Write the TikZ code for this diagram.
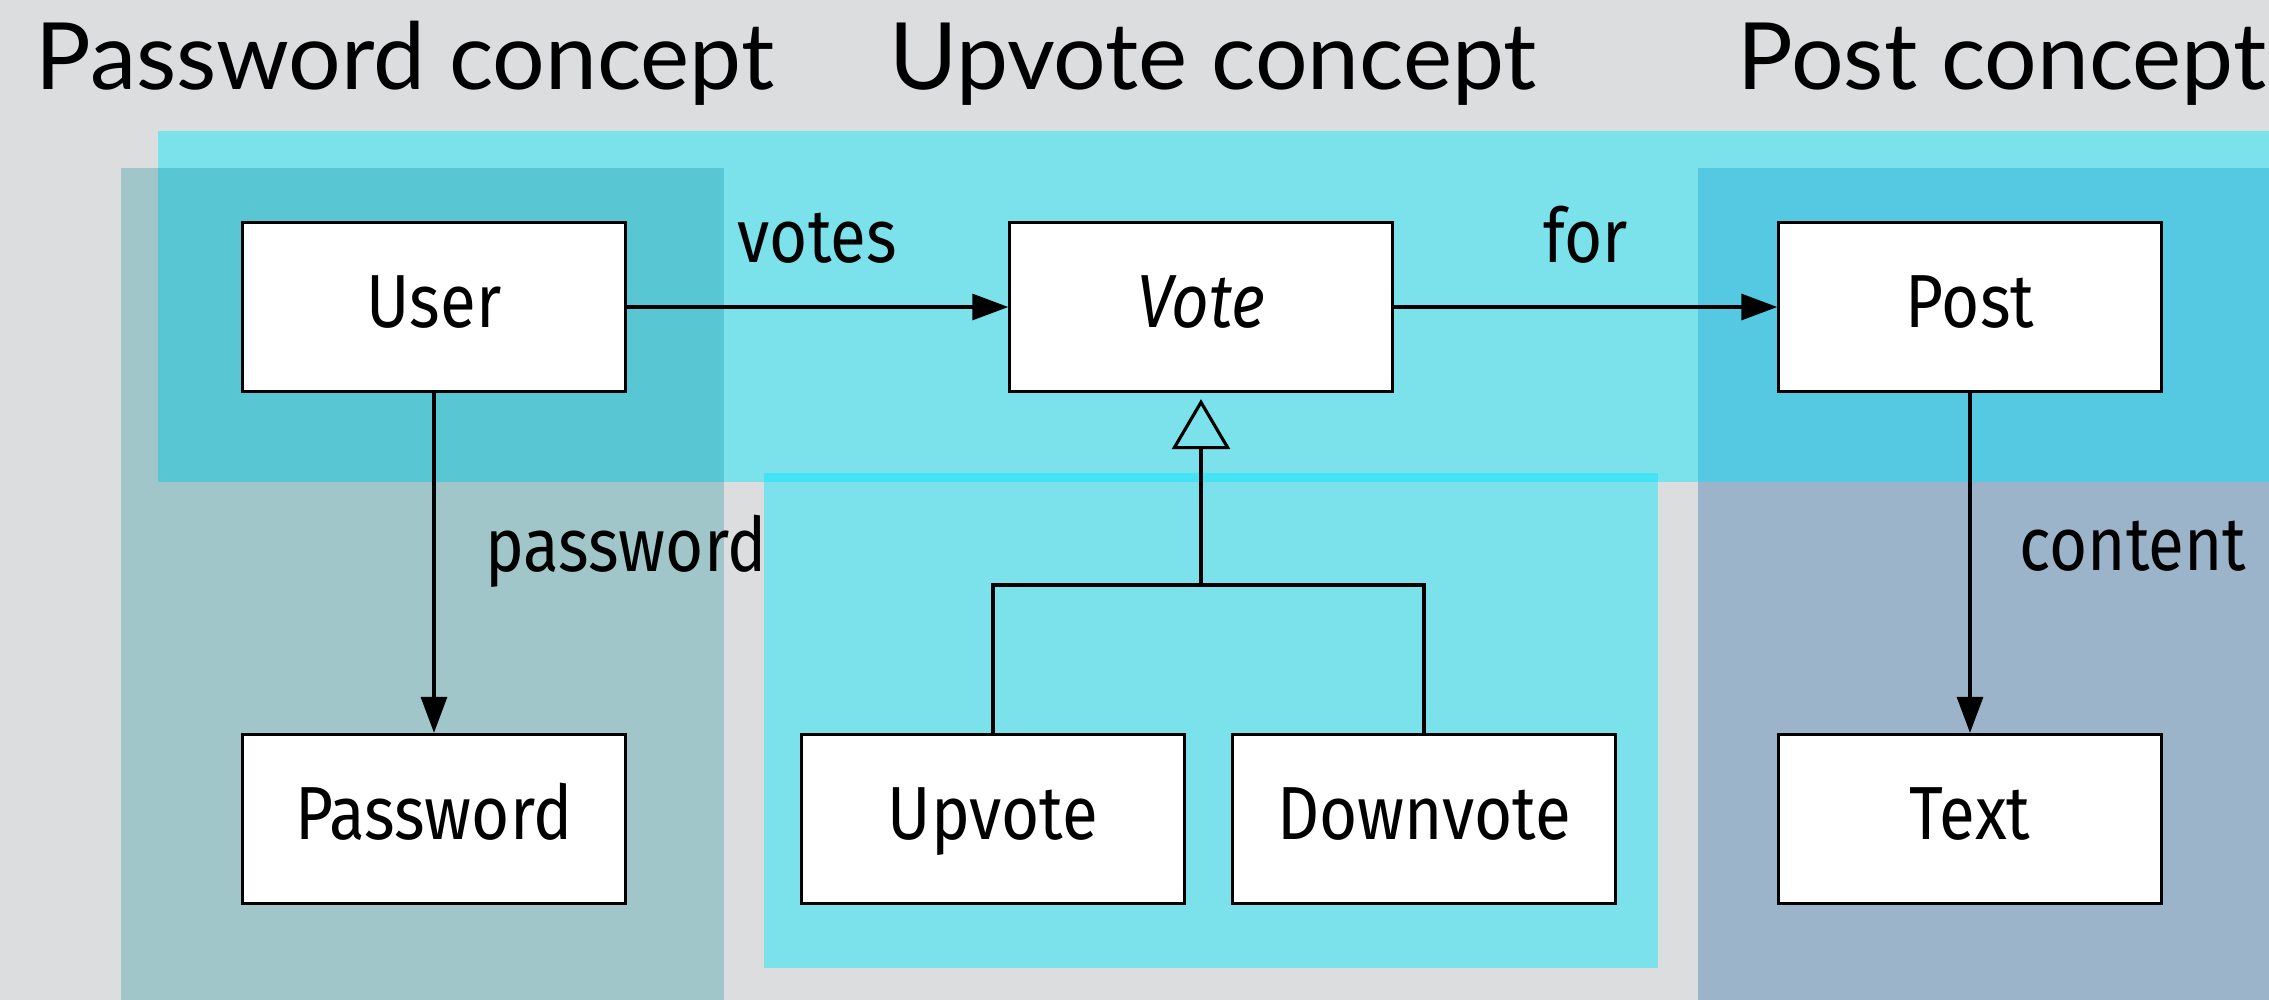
\documentclass[tikz,border=0pt]{standalone}
\usepackage{fontspec}
\setmainfont[FakeStretch=0.87]{Fira Sans}
\newfontfamily\titlefont{Lato}
\usetikzlibrary{arrows.meta}
\definecolor{PageGray}{HTML}{DCDDDF}
\definecolor{VoteCyan}{HTML}{7BE1EB}
\definecolor{VoteStrip}{HTML}{43E3F3}
\definecolor{PwdTeal}{HTML}{A0C6C9}
\definecolor{PwdOverlap}{HTML}{58C7D3}
\definecolor{PostBlue}{HTML}{9BB4CA}
\definecolor{PostOverlap}{HTML}{55C9E1}

\tikzset{
  umlbox/.style={draw, line width=0.9pt, fill=white, minimum width=3.82cm,
    minimum height=1.69cm, inner sep=0pt, text height=0.52cm, text depth=0.12cm,
    font=\fontsize{21.4}{25}\selectfont},
  rolelabel/.style={inner sep=0pt, font=\fontsize{21.4}{25}\selectfont},
  concept/.style={anchor=base, inner sep=0pt, font=\titlefont\fontsize{26.4}{30}\selectfont},
  assoc/.style={line width=0.9pt, -{Triangle[length=0.36cm, width=0.26cm]}},
  generalize/.style={line width=0.9pt, -{Triangle[open, length=0.5cm, width=0.58cm]},
    shorten >=0.06cm}
}

\begin{document}
\begin{tikzpicture}[x=0.01cm, y=-0.01cm]
\useasboundingbox (0,0) rectangle (2269,1000);
% Background and concept areas
\fill[PageGray] (0,0) rectangle (2269,1000);
\fill[PwdTeal] (121,168) rectangle (724,1000);
\fill[PostBlue] (1698,168) rectangle (2269,1000);
\fill[VoteCyan] (158,131) rectangle (2269,482);
\fill[VoteCyan] (764,473) rectangle (1658,968);
% Where the areas overlap
\fill[PwdOverlap] (158,168) rectangle (724,482);
\fill[PostOverlap] (1698,168) rectangle (2269,482);
\fill[VoteStrip] (764,473) rectangle (1658,482);

% Concept titles
\node[concept] (pwdtitle) at (405,90) {Password concept};
\node[concept] (votetitle) at (1213,90) {Upvote concept};
\node[concept] (posttitle) at (2002,90) {Post concept};

% Classes
\node[umlbox] (user) at (434,307) {User};
\node[umlbox] (vote) at (1201,307) {\itshape Vote};
\node[umlbox] (post) at (1970,307) {Post};
\node[umlbox] (password) at (434,819) {Password};
\node[umlbox] (upvote) at (993,819) {Upvote};
\node[umlbox] (downvote) at (1424,819) {Downvote};
\node[umlbox] (text) at (1970,819) {Text};

% Associations
\draw[assoc] (user) -- node[rolelabel, above=0.42cm] (voteslbl) {votes} (vote);
\draw[assoc] (vote) -- node[rolelabel, above=0.42cm] (forlbl) {for} (post);
\draw[assoc] (user) -- node[rolelabel, pos=0.465, right=0.5cm] (pwdlbl) {password} (password);
\draw[assoc] (post) -- node[rolelabel, pos=0.45, right=0.48cm] (contentlbl) {content} (text);

% Upvote and Downvote are kinds of Vote
\coordinate (fork) at (1201,585);
\draw[line width=0.9pt] (upvote.north) |- (fork) -| (downvote.north);
\draw[generalize] (fork) -- (vote.south);
\end{tikzpicture}
\end{document}
